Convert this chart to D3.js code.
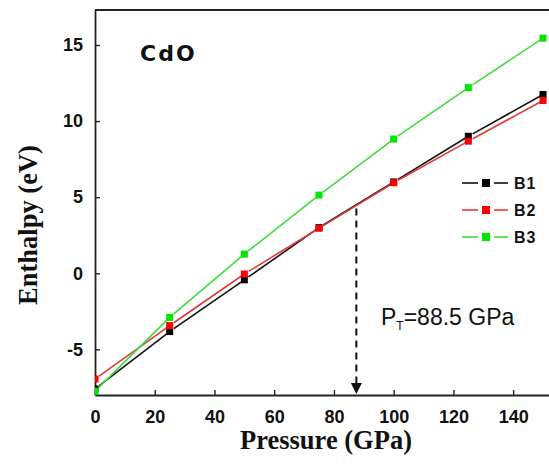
<!DOCTYPE html>
<html>
<head>
<meta charset="utf-8">
<script src="https://cdn.jsdelivr.net/npm/d3@7"></script>
<style>
  body { margin: 0; background: #fff; }
  svg { display: block; }
  .tick-label { font-family: "Liberation Sans", Arial, sans-serif; font-weight: bold; font-size: 18px; fill: #111; }
  .axis-title { font-family: "Liberation Serif", "Times New Roman", serif; font-weight: bold; font-size: 26.5px; fill: #111; }
</style>
</head>
<body>
<svg id="chart"></svg>
<script>
// values
const pressure = [0, 25, 50, 75, 100, 125, 150];
const b1 = [-7.6, -3.83, -0.43, 3.0, 6.0, 9.0, 11.75];
const b2 = [-6.95, -3.44, -0.05, 2.96, 5.95, 8.68, 11.35];
const b3 = [-7.75, -2.9, 1.26, 5.14, 8.82, 12.2, 15.45];
const xTicks = [0, 20, 40, 60, 80, 100, 120, 140];
const yTicks = [-5, 0, 5, 10, 15];
const transition = { p: 87.5, h: 4.25, label: "88.5 GPa" };

const width = 549, height = 464;
const margin = { top: 10, right: 0, bottom: 69, left: 95 };

const series = [
  { name: "B1", values: b1, line: "#111", mark: "#000" },
  { name: "B2", values: b2, line: "#e03a3a", mark: "#ff0000" },
  { name: "B3", values: b3, line: "#3ddc3d", mark: "#00e600" }
];

const svg = d3.select("#chart").attr("width", width).attr("height", height);

const x = d3.scaleLinear().domain([0, 152]).range([margin.left, width]);
const y = d3.scaleLinear().domain([-8, 17.3]).range([height - margin.bottom, margin.top]);

svg.append("defs").append("clipPath").attr("id", "plot-clip")
  .append("rect")
  .attr("x", x(0)).attr("y", y(17.3))
  .attr("width", width - x(0)).attr("height", y(-8) - y(17.3));

// axes with inward ticks, hyphen for negatives like the original
const xAxis = d3.axisBottom(x).tickValues(xTicks).tickSize(-5).tickSizeOuter(0).tickPadding(15);
const yAxis = d3.axisLeft(y).tickValues(yTicks).tickSize(-5).tickSizeOuter(0).tickPadding(12)
  .tickFormat(d => String(d));

const xg = svg.append("g").attr("transform", `translate(0,${y(-8)})`).call(xAxis);
const yg = svg.append("g").attr("transform", `translate(${x(0)},0)`).call(yAxis);

[xg, yg].forEach(g => {
  g.select(".domain").attr("stroke", "#222").attr("stroke-width", 1.8);
  g.selectAll(".tick line").attr("stroke", "#222").attr("stroke-width", 1.4);
  g.selectAll(".tick text").attr("class", "tick-label").attr("fill", null);
});
xg.selectAll(".tick text").attr("dy", "0.71em");

// top frame
svg.append("line")
  .attr("x1", x(0)).attr("x2", width)
  .attr("y1", y(17.3)).attr("y2", y(17.3))
  .attr("stroke", "#222").attr("stroke-width", 1.8);

const plot = svg.append("g").attr("clip-path", "url(#plot-clip)");

// each segment leaves a small gap after the marker it starts from
const gap = 5;
series.forEach(s => {
  const pts = pressure.map((p, i) => [x(p), y(s.values[i])]);
  for (let i = 0; i < pts.length - 1; i++) {
    const [x0, y0] = pts[i], [x1, y1] = pts[i + 1];
    const len = Math.hypot(x1 - x0, y1 - y0);
    plot.append("line")
      .attr("x1", x0 + (x1 - x0) * gap / len)
      .attr("y1", y0 + (y1 - y0) * gap / len)
      .attr("x2", x1).attr("y2", y1)
      .attr("stroke", s.line).attr("stroke-width", 1.6);
  }
});

series.forEach(s => {
  plot.selectAll(null)
    .data(pressure.map((p, i) => [p, s.values[i]]))
    .join("rect")
    .attr("x", d => x(d[0]) - 3.5)
    .attr("y", d => y(d[1]) - 3.5)
    .attr("width", 7).attr("height", 7)
    .attr("fill", s.mark);
});

// transition pressure arrow
const ax = x(transition.p);
svg.append("line")
  .attr("x1", ax).attr("x2", ax)
  .attr("y1", y(transition.h)).attr("y2", y(-8) - 11)
  .attr("stroke", "#111").attr("stroke-width", 2)
  .attr("stroke-dasharray", "7,5");
svg.append("path")
  .attr("d", `M${ax - 5.5},${y(-8) - 12} L${ax + 5.5},${y(-8) - 12} L${ax},${y(-8) - 1} Z`)
  .attr("fill", "#111");

const pt = svg.append("text")
  .attr("x", 381).attr("y", 325)
  .attr("font-family", "Liberation Sans, Arial, sans-serif")
  .attr("font-size", 23).attr("fill", "#111");
pt.append("tspan").text("P");
pt.append("tspan").attr("font-size", 12).attr("dy", 5).text("T");
pt.append("tspan").attr("dy", -5).text("=" + transition.label);

svg.append("text")
  .attr("x", 140).attr("y", 61)
  .attr("font-family", "DejaVu Sans, sans-serif")
  .attr("font-weight", "bold").attr("font-size", 22)
  .attr("letter-spacing", 2)
  .attr("fill", "#111")
  .text("CdO");

// legend
const legend = svg.append("g");
series.forEach((s, i) => {
  const ly = 183 + i * 27;
  legend.append("line").attr("x1", 462).attr("x2", 478).attr("y1", ly).attr("y2", ly)
    .attr("stroke", s.line).attr("stroke-width", 1.6);
  legend.append("line").attr("x1", 494).attr("x2", 508).attr("y1", ly).attr("y2", ly)
    .attr("stroke", s.line).attr("stroke-width", 1.6);
  legend.append("rect").attr("x", 482).attr("y", ly - 4).attr("width", 8).attr("height", 8)
    .attr("fill", s.mark);
  legend.append("text")
    .attr("x", 514).attr("y", ly + 6)
    .attr("font-family", "Liberation Sans, Arial, sans-serif")
    .attr("font-weight", "bold").attr("font-size", 16)
    .attr("letter-spacing", 1)
    .attr("fill", "#111")
    .text(s.name);
});

// axis titles
svg.append("text")
  .attr("class", "axis-title")
  .attr("x", (x(0) + width) / 2 + 4).attr("y", 449)
  .attr("text-anchor", "middle")
  .text("Pressure (GPa)");

svg.append("text")
  .attr("class", "axis-title")
  .attr("transform", "translate(37,225) rotate(-90)")
  .attr("text-anchor", "middle")
  .text("Enthalpy (eV)");
</script>
</body>
</html>
